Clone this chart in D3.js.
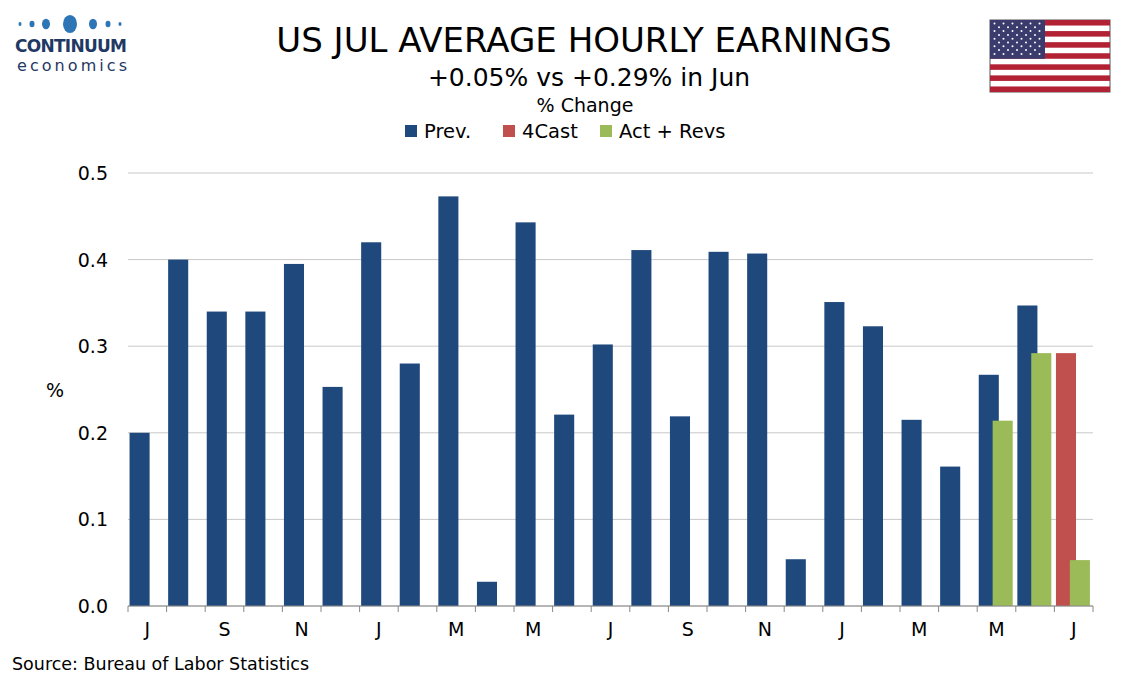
<!DOCTYPE html><html><head><meta charset="utf-8">
<script src="https://cdn.jsdelivr.net/npm/d3@7"></script>
<style>body{margin:0;background:#fff}text{font-family:Verdana,"DejaVu Sans",sans-serif}</style></head><body>
<svg id="c" width="1134" height="680"></svg>
<script>
const months=["Jul23","Aug23","Sep23","Oct23","Nov23","Dec23","Jan24","Feb24","Mar24","Apr24","May24","Jun24","Jul24","Aug24","Sep24","Oct24","Nov24","Dec24","Jan25","Feb25","Mar25","Apr25","May25","Jun25","Jul25"];
const tickLabels=["J","","S","","N","","J","","M","","M","","J","","S","","N","","J","","M","","M","","J"];
const prev=[0.20,0.40,0.34,0.34,0.395,0.253,0.42,0.28,0.473,0.028,0.443,0.221,0.302,0.411,0.219,0.409,0.407,0.054,0.351,0.323,0.215,0.161,0.267,0.347,null];
const fcast=[null,null,null,null,null,null,null,null,null,null,null,null,null,null,null,null,null,null,null,null,null,null,null,null,0.292];
const actRevs=[null,null,null,null,null,null,null,null,null,null,null,null,null,null,null,null,null,null,null,null,null,null,0.214,0.292,0.053];
const yTicks=[0,0.1,0.2,0.3,0.4,0.5];
const svg=d3.select("#c");
const L=128,R=1093,T=173,B=606;
const x=d3.scaleBand().domain(months).range([L,R]);
const y=d3.scaleLinear().domain([0,0.5]).range([B,T]);
const bw=x.bandwidth();
svg.append("g").selectAll("line").data(yTicks).join("line").attr("x1",L).attr("x2",R).attr("y1",d=>y(d)).attr("y2",d=>y(d)).attr("stroke","#c8c8c8");
svg.append("g").selectAll("text").data(yTicks).join("text").attr("x",108).attr("y",d=>y(d)+7).attr("text-anchor","end").attr("font-size",19).text(d=>d.toFixed(1));
const bars=(arr,off,col)=>svg.append("g").selectAll("rect").data(months.map((m,i)=>({m,v:arr[i]})).filter(d=>d.v!=null)).join("rect")
 .attr("x",d=>x(d.m)+off*bw).attr("width",bw*0.52).attr("y",d=>y(d.v)).attr("height",d=>B-y(d.v)).attr("fill",col);
bars(prev,0.04,"#1f497d");bars(fcast,0.04,"#c0504d");bars(actRevs,0.4,"#9bbb59");
svg.append("line").attr("x1",L).attr("x2",R).attr("y1",B).attr("y2",B).attr("stroke","#888");
svg.append("g").selectAll("line").data(months.concat(["end"])).join("line").attr("x1",(d,i)=>L+i*bw).attr("x2",(d,i)=>L+i*bw).attr("y1",B).attr("y2",B+6).attr("stroke","#888");
svg.append("g").selectAll("text").data(months).join("text").attr("x",d=>x(d)+bw/2).attr("y",B+30).attr("text-anchor","middle").attr("font-size",19).text((d,i)=>tickLabels[i]);
svg.append("text").attr("x",55).attr("y",397).attr("text-anchor","middle").attr("font-size",19).text("%");
svg.append("text").attr("x",584).attr("y",52).attr("text-anchor","middle").attr("font-size",34).text("US JUL AVERAGE HOURLY EARNINGS");
svg.append("text").attr("x",589).attr("y",86).attr("text-anchor","middle").attr("font-size",25).text("+0.05% vs +0.29% in Jun");
svg.append("text").attr("x",585).attr("y",112).attr("text-anchor","middle").attr("font-size",19).text("% Change");
const leg=[["Prev.","#1f497d",405],["4Cast","#c0504d",503],["Act + Revs","#9bbb59",600]];
leg.forEach(([t,c,lx])=>{svg.append("rect").attr("x",lx).attr("y",125).attr("width",12).attr("height",12).attr("fill",c);
 svg.append("text").attr("x",lx+19).attr("y",138).attr("font-size",19.5).text(t);});
svg.append("text").attr("x",12).attr("y",670).attr("font-size",17.5).text("Source: Bureau of Labor Statistics");
const lg=svg.append("g").attr("fill","#2e75b6");
[[20,24,1.5],[32,24,2.5],[46,24,4],[70,24,7],[93,24,4],[108,24,2.5],[120,24,1.5]].forEach(([cx,cy,r])=>lg.append("ellipse").attr("cx",cx).attr("cy",cy).attr("rx",r).attr("ry",r*1.3));
svg.append("text").attr("x",15).attr("y",52).attr("font-size",17).attr("font-weight","bold").attr("fill","#1f3864").attr("textLength",112).text("CONTINUUM");
svg.append("text").attr("x",17).attr("y",71).attr("font-size",16).attr("fill","#1f3864").attr("textLength",110).text("economics");
const f=svg.append("g").attr("transform","translate(990,20)");
f.append("rect").attr("width",120).attr("height",72).attr("fill","#fff").attr("stroke","#555");
d3.range(13).forEach(i=>{if(i%2==0)f.append("rect").attr("y",i*72/13).attr("width",120).attr("height",72/13).attr("fill","#b22234");});
f.append("rect").attr("width",55).attr("height",72*7/13).attr("fill","#3c3b6e");
d3.range(9).forEach(r=>d3.range(r%2?5:6).forEach(c=>f.append("circle").attr("cx",(r%2?9:4.5)+c*9).attr("cy",3.5+r*3.8).attr("r",1).attr("fill","#fff")));
</script></body></html>
